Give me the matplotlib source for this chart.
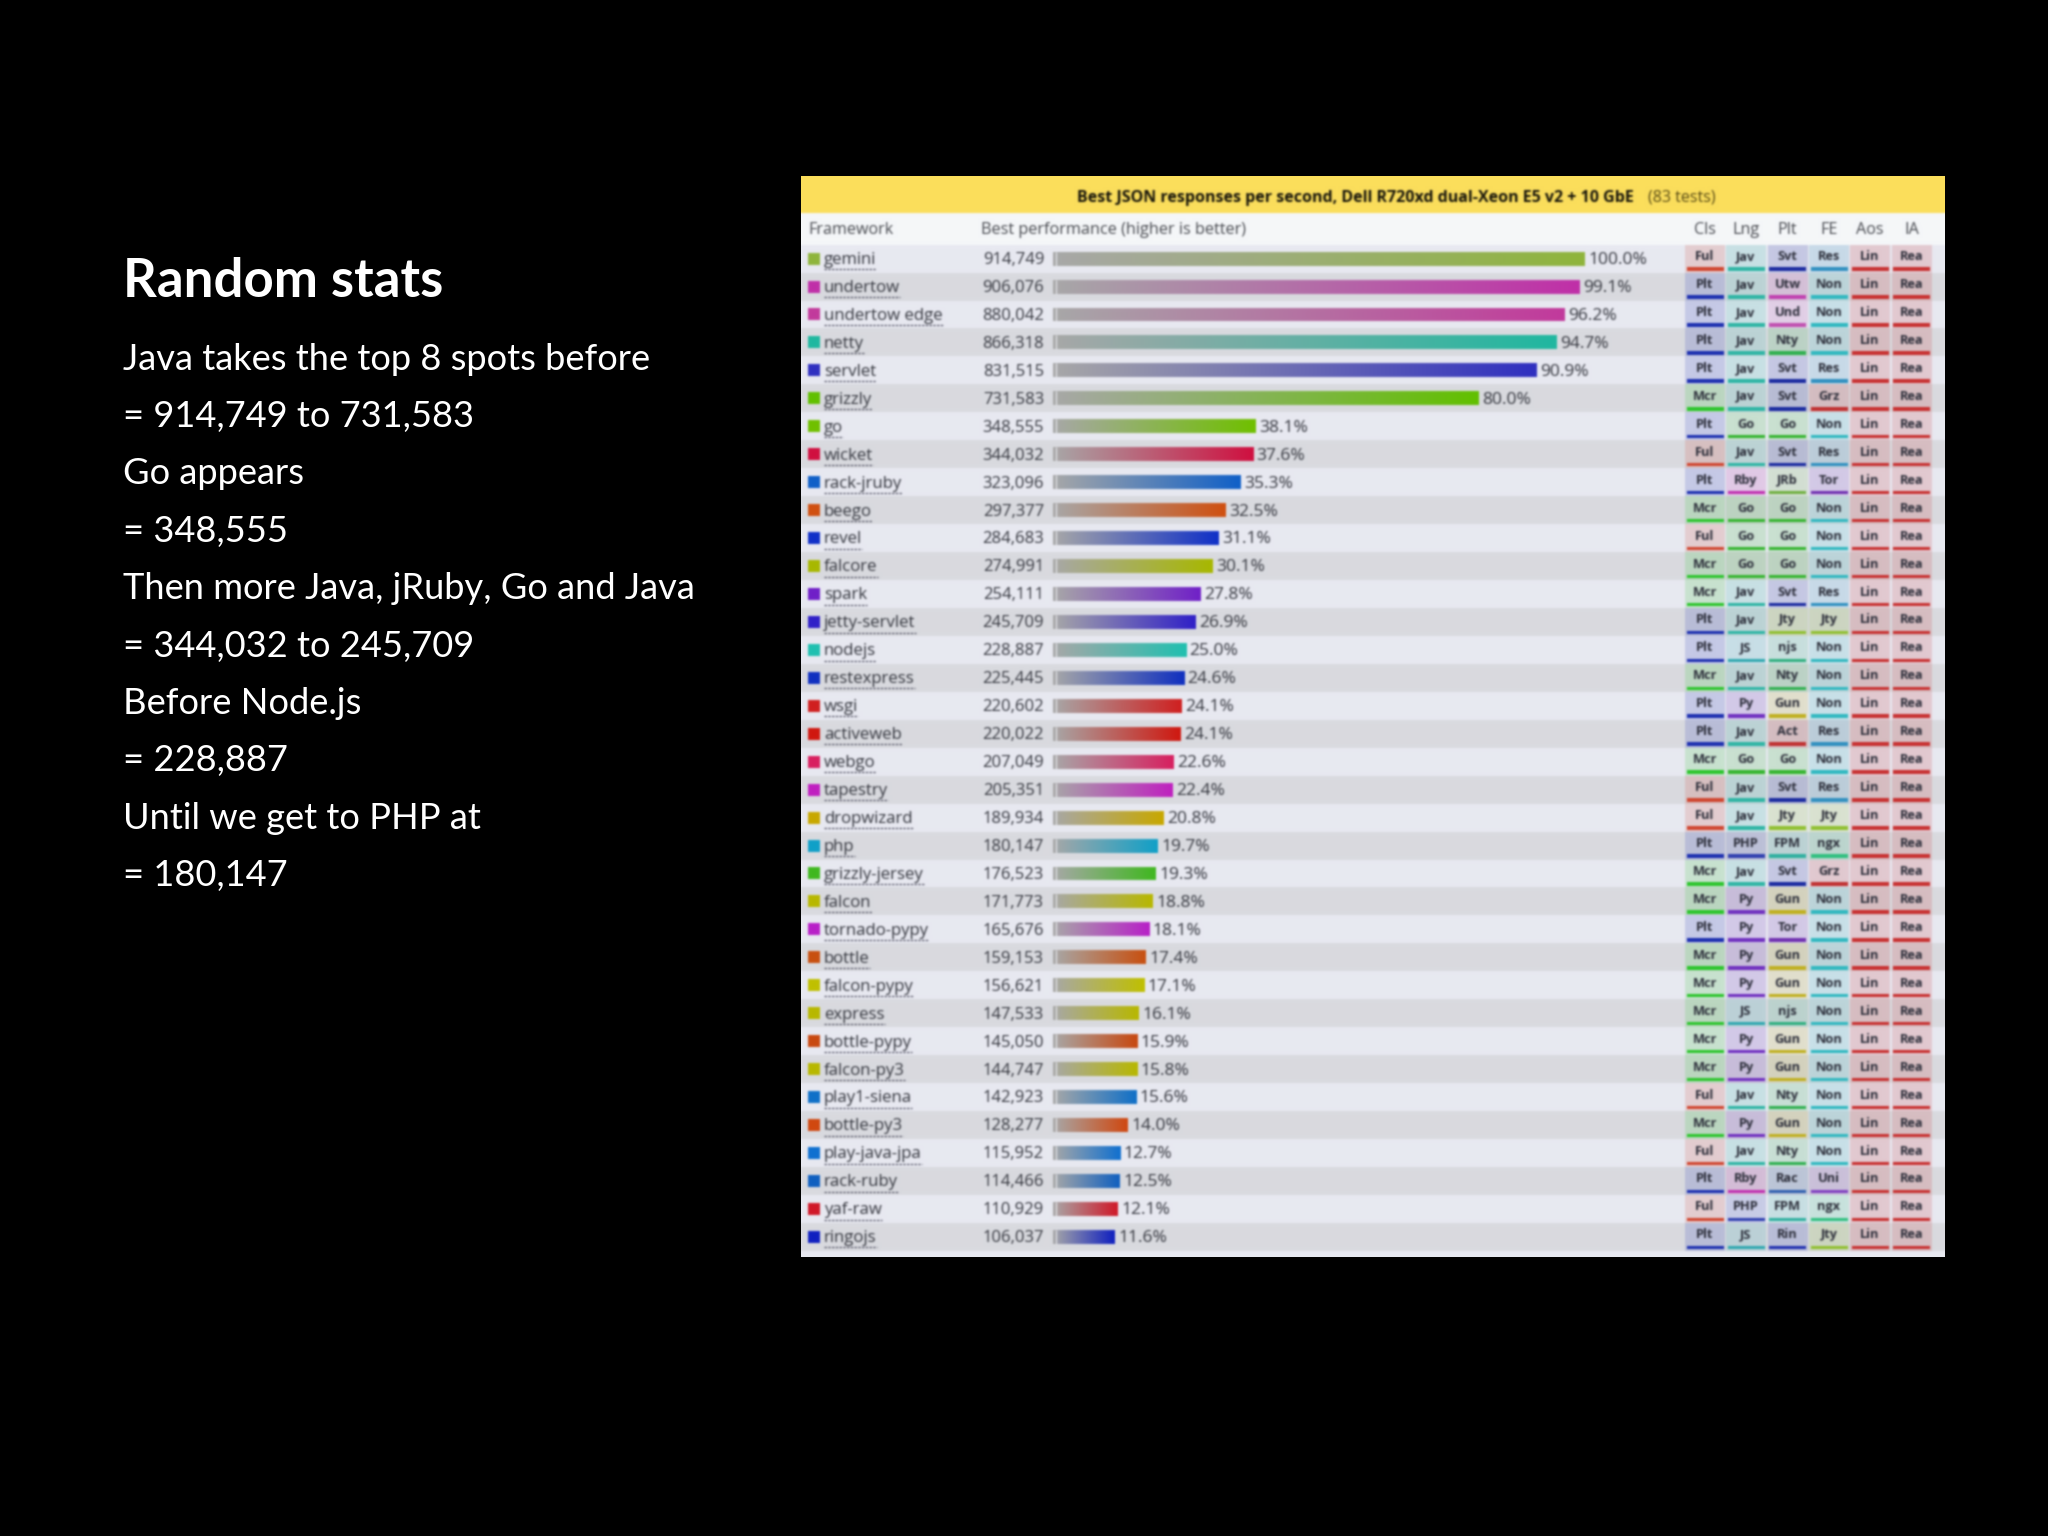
import numpy as np
import matplotlib
matplotlib.use("Agg")
import matplotlib.pyplot as plt
from matplotlib.colors import LinearSegmentedColormap, to_rgba
from matplotlib.transforms import ScaledTranslation

frameworks = ["gemini","undertow","undertow edge","netty","servlet","grizzly","go","wicket","rack-jruby","beego",
 "revel","falcore","spark","jetty-servlet","nodejs","restexpress","wsgi","activeweb","webgo","tapestry","dropwizard",
 "php","grizzly-jersey","falcon","tornado-pypy","bottle","falcon-pypy","express","bottle-pypy","falcon-py3",
 "play1-siena","bottle-py3","play-java-jpa","rack-ruby","yaf-raw","ringojs"]
rps = [914749,906076,880042,866318,831515,731583,348555,344032,323096,297377,284683,274991,254111,245709,228887,
 225445,220602,220022,207049,205351,189934,180147,176523,171773,165676,159153,156621,147533,145050,144747,142923,
 128277,115952,114466,110929,106037]
percent = [100.0,99.1,96.2,94.7,90.9,80.0,38.1,37.6,35.3,32.5,31.1,30.1,27.8,26.9,25.0,24.6,24.1,24.1,22.6,22.4,
 20.8,19.7,19.3,18.8,18.1,17.4,17.1,16.1,15.9,15.8,15.6,14.0,12.7,12.5,12.1,11.6]
bar_colors = ["#8fb53c","#c030a8","#c23a9c","#20b8a0","#3030c0","#62c000","#70c000","#d01040","#1060c8","#d05010",
 "#1030c8","#a8b800","#7020c8","#3020c8","#20c0b0","#1030c0","#d02020","#d01810","#d82060","#c020c0","#c8a800",
 "#10a0c8","#40b820","#b8b800","#b820c8","#c85010","#c0c000","#b8b800","#c84810","#b8b800","#1070c8","#d04810",
 "#1070d0","#1060c0","#d01828","#1020c0"]
col_heads = ["Cls","Lng","Plt","FE","Aos","IA"]
cls = ["Ful","Plt","Plt","Plt","Plt","Mcr","Plt","Ful","Plt","Mcr","Ful","Mcr","Mcr","Plt","Plt","Mcr","Plt","Plt",
 "Mcr","Ful","Ful","Plt","Mcr","Mcr","Plt","Mcr","Mcr","Mcr","Mcr","Mcr","Ful","Mcr","Ful","Plt","Ful","Plt"]
lng = ["Jav","Jav","Jav","Jav","Jav","Jav","Go","Jav","Rby","Go","Go","Go","Jav","Jav","JS","Jav","Py","Jav","Go",
 "Jav","Jav","PHP","Jav","Py","Py","Py","Py","JS","Py","Py","Jav","Py","Jav","Rby","PHP","JS"]
plt_col = ["Svt","Utw","Und","Nty","Svt","Svt","Go","Svt","JRb","Go","Go","Go","Svt","Jty","njs","Nty","Gun","Act",
 "Go","Svt","Jty","FPM","Svt","Gun","Tor","Gun","Gun","njs","Gun","Gun","Nty","Gun","Nty","Rac","FPM","Rin"]
fe = ["Res","Non","Non","Non","Res","Grz","Non","Res","Tor","Non","Non","Non","Res","Jty","Non","Non","Non","Res",
 "Non","Res","Jty","ngx","Grz","Non","Non","Non","Non","Non","Non","Non","Non","Non","Non","Uni","ngx","Jty"]
aos = ["Lin"] * 36
ia = ["Rea"] * 36
tag_colors = {"Ful":"#d0452f","Plt":"#1c2fb0","Mcr":"#2cc52c","Jav":"#2fb5a5","Go":"#35b52f","Rby":"#c030b0",
 "Py":"#7030c0","JS":"#30a8b0","PHP":"#3040b0","Svt":"#1a2aa0","Utw":"#c040b0","Und":"#c050b0","Nty":"#30b050",
 "JRb":"#70b040","Gun":"#c0b020","njs":"#30b080","Act":"#c03030","Tor":"#7030b0","Jty":"#90c030","FPM":"#30b0a0",
 "Rac":"#3060b0","Rin":"#2030b0","Res":"#3090c0","Non":"#30b8c0","Grz":"#c03030","ngx":"#30c080","Uni":"#8040c0",
 "Lin":"#c83030","Rea":"#c83030"}
slide_title = "Random stats"
slide_lines = ["Java takes the top 8 spots before","= 914,749 to 731,583","Go appears","= 348,555",
 "Then more Java, jRuby, Go and Java","= 344,032 to 245,709","Before Node.js","= 228,887",
 "Until we get to PHP at","= 180,147"]
chart_title = "Best JSON responses per second, Dell R720xd dual-Xeon E5 v2 + 10 GbE"
chart_tests = "(83 tests)"

W, H = 2048, 1536
fig = plt.figure(figsize=(W/100, H/100), dpi=100, facecolor="black")

def blur(img, dpi, sigma=1.05, r=4):
    k = np.exp(-0.5*(np.arange(-r, r+1)/sigma)**2); k /= k.sum()
    A = np.pad(img, ((r, r), (r, r), (0, 0)), mode="edge")
    for axis in (0, 1):
        out = np.zeros_like(A)
        for o, w in zip(range(-r, r+1), k):
            out += w*np.roll(A, o, axis=axis)
        A = out
    return A[r:-r, r:-r], 0, 0

# slide text
FT = ["Lato", "DejaVu Sans"]
fig.text(123/W, 1-297/H, slide_title, color="white", fontsize=38, fontweight="bold", family=FT)
for i, line in enumerate(slide_lines):
    fig.text(123/W, 1-(369.5+57.4*i)/H, line, color="white", fontsize=26.1, family=FT)

# panel
PX0, PX1, PY0, PY1 = 801, 1945, 176, 1257
ROW, FIRST = 27.95, 258.6
ax = fig.add_axes([PX0/W, 1-PY1/H, (PX1-PX0)/W, (PY1-PY0)/H])
ax.set_xlim(PX0, PX1)
ylim = ((PY1-FIRST)/ROW, (PY0-FIRST)/ROW)
ax.set_ylim(*ylim)
ax.set_xticks([]); ax.set_yticks([])
for s in ax.spines.values():
    s.set_visible(False)
ax.set_facecolor("#e8e9f1")
ax.set_agg_filter(blur)

to_row = lambda px: (px-FIRST)/ROW
TY = 0.05  # text sits a little below the row centre
ax.axhspan(ylim[1], to_row(213), color="#fbde5c", lw=0)
ax.axhspan(to_row(213), to_row(245), color="#f5f7f9", lw=0)
n = len(frameworks)
for i in range(0, n+1):
    ax.axhspan(i-0.5, i+0.5, color="#e8e9f1" if i % 2 == 0 else "#d9dadf", lw=0)

FONT = ["Open Sans", "DejaVu Sans"]
TXT = "#33353d"
HEAD = "#47494f"
ax.text(1634, to_row(198), chart_title, ha="right", va="center", fontsize=11.5, fontweight="bold", color="#15130a", family=FONT)
ax.text(1648, to_row(198), chart_tests, ha="left", va="center", fontsize=11.5, color="#574a14", family=FONT)
ax.text(808, to_row(230), "Framework", ha="left", va="center", fontsize=11.6, color=HEAD, family=FONT)
ax.text(981, to_row(230), "Best performance (higher is better)", ha="left", va="center", fontsize=11.7, color=HEAD, family=FONT)

rend = fig.canvas.get_renderer()
for i, (name, val, c) in enumerate(zip(frameworks, rps, bar_colors)):
    ax.scatter([814], [i], s=(12*0.72)**2, marker="s", color=c, lw=0, zorder=3)
    t = ax.text(824, i+TY, name, ha="left", va="center", fontsize=12.1, color=TXT, family=FONT, zorder=3)
    bb = t.get_window_extent(rend).transformed(ax.transData.inverted())
    ax.plot([bb.x0, bb.x1], [i+0.38, i+0.38], color="#556", lw=0.9, ls=(0, (2, 1)), zorder=3)
    ax.text(1044, i+TY, f"{val:,}", ha="right", va="center", fontsize=12.0, color=TXT, family=FONT, zorder=3)

# performance bars
bax = ax.inset_axes([(1053-PX0)/(PX1-PX0), 0, (1585-1053)/(PX1-PX0), 1])
bax.patch.set_visible(False)
h = 0.5
bars = bax.barh(np.arange(n), rps, height=h, color=bar_colors, lw=0)
for i, (b, val, c, p) in enumerate(zip(bars, rps, bar_colors, percent)):
    cmap = LinearSegmentedColormap.from_list("g", ["#a8a8a8", c])
    im = bax.imshow(np.linspace(0, 1, 256).reshape(1, -1), cmap=cmap, aspect="auto",
                    extent=[0, val, i+h/2, i-h/2], interpolation="bilinear", zorder=2)
    im.set_clip_path(b)
    bax.annotate(f"{p:.1f}%", (val, i+TY), xytext=(2.5, 0), textcoords="offset points", ha="left", va="center",
                 fontsize=12.5, color=TXT, family=FONT, annotation_clip=False, zorder=4)
shift = ScaledTranslation(3/100, 0, fig.dpi_scale_trans)
bax.vlines(np.zeros(n), np.arange(n)-h/2, np.arange(n)+h/2, color="#e4e5ea", lw=0.9, zorder=3,
           transform=bax.transData+shift)
bax.set_xlim(0, max(rps))
bax.set_ylim(*ylim)
bax.axis("off")

# tag columns
col_x = [1705, 1746, 1787.5, 1829, 1870, 1911.5]
columns = [cls, lng, plt_col, fe, aos, ia]
for head, x, col in zip(col_heads, col_x, columns):
    ax.text(x, to_row(230), head, ha="center", va="center", fontsize=11.6, color=HEAD, family=FONT)
    for i, tag in enumerate(col):
        c = tag_colors[tag]
        ax.bar(x, 1.0, width=40, bottom=i-0.5, color=to_rgba(c, 0.17), lw=0, zorder=1)
        ax.bar(x, 0.125, width=37, bottom=i+0.31, color=c, lw=0, zorder=2)
        ax.text(x, i-0.07, tag, ha="center", va="center", fontsize=9.2, fontweight="bold", color="#2c2e3a", family=FONT, zorder=3)
ax.set_xlim(PX0, PX1)
ax.set_ylim(*ylim)

fig.savefig("out.png", dpi=100, facecolor="black")
